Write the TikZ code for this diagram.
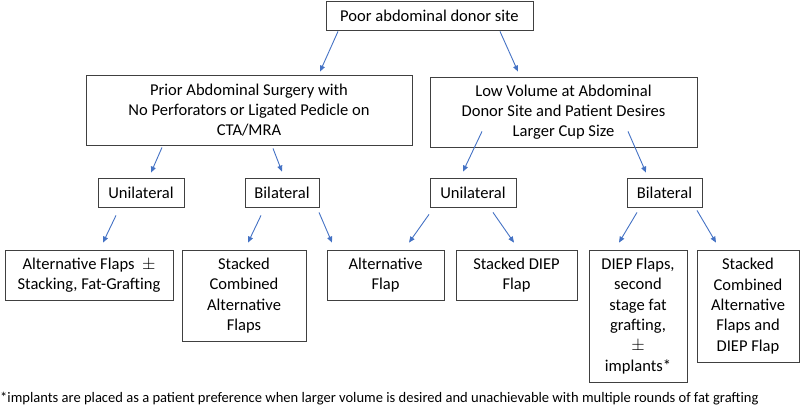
\documentclass[tikz,border=0pt]{standalone}
\usepackage{fontspec}
\setmainfont{Carlito}
\usetikzlibrary{arrows.meta}
\begin{document}
\begin{tikzpicture}[x=1bp, y=-1bp,
  box/.style={draw=black!75, line width=0.8bp, align=center, inner sep=0pt,
    font=\fontsize{16.6}{20.4}\selectfont},
  arr/.style={-{Triangle[length=6bp,width=5bp]}, draw={rgb,255:red,68;green,114;blue,196},
    line width=0.9bp}]
  \useasboundingbox (0,0) rectangle (800,407);
  \node[box, minimum width=207bp, minimum height=29bp] (top) at (429.5,15.5) {Poor abdominal donor site};
  \node[box, minimum width=326bp, minimum height=70bp] (A) at (249,110) {Prior Abdominal Surgery with\\No Perforators or Ligated Pedicle on\\CTA/MRA};
  \node[box, minimum width=267bp, minimum height=70bp] (B) at (563.5,112) {Low Volume at Abdominal\\Donor Site and Patient Desires\\Larger Cup Size};
  \node[box, minimum width=86bp, minimum height=29bp] (uniL) at (141,192.5) {Unilateral};
  \node[box, minimum width=74bp, minimum height=29bp] (biL) at (282,192.5) {Bilateral};
  \node[box, minimum width=86bp, minimum height=29bp] (uniR) at (473,192.5) {Unilateral};
  \node[box, minimum width=75bp, minimum height=29bp] (biR) at (664.5,192.5) {Bilateral};
  \node[box, minimum width=168bp, minimum height=50bp] (altpm) at (89,275) {Alternative Flaps~~$\pm$\\Stacking, Fat-Grafting};
  \node[box, minimum width=124bp, minimum height=91bp] (stackalt) at (244,295.5) {Stacked\\Combined\\Alternative\\Flaps};
  \node[box, minimum width=117bp, minimum height=50bp] (alt) at (385.5,275) {Alternative\\Flap};
  \node[box, minimum width=121bp, minimum height=50bp] (stackdiep) at (516.5,275) {Stacked DIEP\\Flap};
  \node[box, minimum width=98bp, minimum height=132bp] (diep) at (638,316) {DIEP Flaps,\\second\\stage fat\\grafting,\\$\pm$\\implants*};
  \node[box, minimum width=102bp, minimum height=112bp] (stackboth) at (748,306) {Stacked\\Combined\\Alternative\\Flaps and\\DIEP Flap};
  \node[anchor=west, inner sep=0pt, font=\fontsize{14.6}{17}\selectfont] (note) at (0,399)
    {*implants are placed as a patient preference when larger volume is desired and unachievable with multiple rounds of fat grafting};
  \draw[arr] ([xshift=-91.5bp,yshift=-1bp]top.south) -- ([xshift=71bp,yshift=3bp]A.north);
  \draw[arr] ([xshift=70.5bp,yshift=-1bp]top.south) -- ([xshift=-45.5bp,yshift=5bp]B.north);
  \draw[arr] ([xshift=-87bp,yshift=-2bp]A.south) -- ([xshift=10bp,yshift=5bp]uniL.north);
  \draw[arr] ([xshift=24bp,yshift=-3bp]A.south) -- ([yshift=6bp]biL.north);
  \draw[arr] ([xshift=-81.5bp,yshift=16bp]B.south) -- ([xshift=-10bp,yshift=6bp]uniR.north);
  \draw[arr] ([xshift=64.5bp,yshift=16bp]B.south) -- ([xshift=-18.5bp,yshift=5bp]biR.north);
  \draw[arr] ([xshift=-25bp,yshift=-8bp]uniL.south) -- ([xshift=14bp,yshift=7bp]altpm.north);
  \draw[arr] ([xshift=-21bp,yshift=-8bp]biL.south) -- ([xshift=4bp,yshift=7bp]stackalt.north);
  \draw[arr] ([xshift=37bp,yshift=-5bp]biL.south) -- ([xshift=-53.5bp,yshift=7bp]alt.north);
  \draw[arr] ([xshift=-44bp,yshift=-7bp]uniR.south) -- ([xshift=23.5bp,yshift=7bp]alt.north);
  \draw[arr] ([xshift=20bp,yshift=-5bp]uniR.south) -- ([xshift=-2.5bp,yshift=7bp]stackdiep.north);
  \draw[arr] ([xshift=-27.5bp,yshift=-5bp]biR.south) -- ([xshift=-19bp,yshift=7bp]diep.north);
  \draw[arr] ([xshift=32.5bp,yshift=-3bp]biR.south) -- ([xshift=-32bp,yshift=7bp]stackboth.north);
\end{tikzpicture}
\end{document}
